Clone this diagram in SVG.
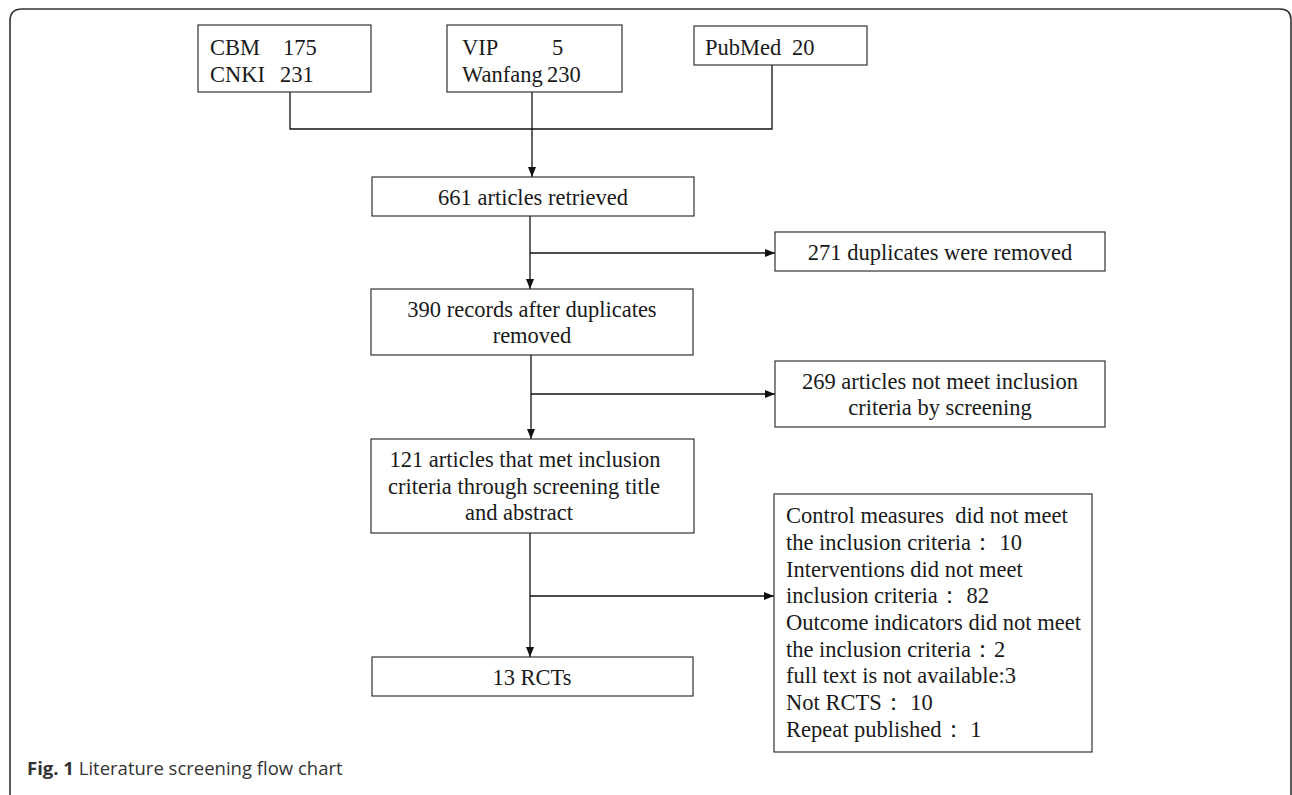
<svg xmlns="http://www.w3.org/2000/svg" width="1292" height="795" viewBox="0 0 1292 795">
<defs>
<marker id="ah" markerWidth="10" markerHeight="8" refX="10" refY="4" orient="auto" markerUnits="userSpaceOnUse">
<path d="M0,0 L10,4 L0,8 Z" fill="#111"/>
</marker>
</defs>
<style>
.box{fill:#fff;stroke:#333;stroke-width:1.2}
.t{font-family:"Liberation Serif","Times New Roman",serif;font-size:22.5px;fill:#1a1a1a}
.c{text-anchor:middle}
.ln{fill:none;stroke:#111;stroke-width:1.3}
.cap{font-family:"Open Sans","Noto Sans",sans-serif;font-size:18.5px;fill:#333}
</style>
<rect width="1292" height="795" fill="#fff"/>
<path d="M10,795 V21 Q10,9 22,9 H1280 Q1291,9 1291,20 V795" fill="none" stroke="#333" stroke-width="1.6"/>

<g id="connectors">
<path class="ln" d="M290,92 V129 H772 V65"/>
<path class="ln" d="M532,92 V177" marker-end="url(#ah)"/>
<path class="ln" d="M530,216 V289" marker-end="url(#ah)"/>
<path class="ln" d="M530,253 H775" marker-end="url(#ah)"/>
<path class="ln" d="M531,355 V439" marker-end="url(#ah)"/>
<path class="ln" d="M531,394 H775" marker-end="url(#ah)"/>
<path class="ln" d="M530,533 V657" marker-end="url(#ah)"/>
<path class="ln" d="M530,596 H774" marker-end="url(#ah)"/>
</g>

<g id="cbm">
<rect class="box" x="198" y="25" width="173" height="67"/>
<text class="t" y="55"><tspan x="210">CBM</tspan><tspan x="283">175</tspan></text>
<text class="t" y="82"><tspan x="210">CNKI</tspan><tspan x="280">231</tspan></text>
</g>
<g id="vip">
<rect class="box" x="447" y="25" width="175" height="67"/>
<text class="t" y="55"><tspan x="462">VIP</tspan><tspan x="552">5</tspan></text>
<text class="t" y="82"><tspan x="462">Wanfang</tspan><tspan x="547">230</tspan></text>
</g>
<g id="pubmed">
<rect class="box" x="694" y="26" width="173" height="39"/>
<text class="t" y="55"><tspan x="705">PubMed</tspan><tspan x="792">20</tspan></text>
</g>
<g id="retrieved">
<rect class="box" x="372" y="177" width="322" height="39"/>
<text class="t c" x="533" y="205">661 articles retrieved</text>
</g>
<g id="dup">
<rect class="box" x="775" y="232" width="330" height="39"/>
<text class="t c" x="940" y="260">271 duplicates were removed</text>
</g>
<g id="records">
<rect class="box" x="371" y="289" width="322" height="66"/>
<text class="t c" x="532" y="317">390 records after duplicates</text>
<text class="t c" x="532" y="343">removed</text>
</g>
<g id="notmeet">
<rect class="box" x="775" y="361" width="330" height="66"/>
<text class="t c" x="940" y="389">269 articles not meet inclusion</text>
<text class="t c" x="940" y="415">criteria by screening</text>
</g>
<g id="screened">
<rect class="box" x="371" y="439" width="323" height="94"/>
<text class="t c" x="525" y="467">121 articles that met inclusion</text>
<text class="t c" x="524" y="494">criteria through screening title</text>
<text class="t c" x="519" y="520">and abstract</text>
</g>
<g id="excluded">
<rect class="box" x="774" y="494" width="318" height="258"/>
<text class="t" x="786" y="523" style="white-space:pre" xml:space="preserve">Control measures  did not meet</text>
<text class="t" x="786" y="550">the inclusion criteria： 10</text>
<text class="t" x="786" y="577">Interventions did not meet</text>
<text class="t" x="786" y="603">inclusion criteria： 82</text>
<text class="t" x="786" y="630">Outcome indicators did not meet</text>
<text class="t" x="786" y="657">the inclusion criteria：2</text>
<text class="t" x="786" y="683">full text is not available:3</text>
<text class="t" x="786" y="710">Not RCTS： 10</text>
<text class="t" x="786" y="737">Repeat published： 1</text>
</g>
<g id="rcts">
<rect class="box" x="372" y="657" width="321" height="39"/>
<text class="t c" x="532" y="685">13 RCTs</text>
</g>
<text class="cap" x="27" y="775"><tspan font-weight="bold">Fig. 1</tspan> Literature screening flow chart</text>
</svg>
